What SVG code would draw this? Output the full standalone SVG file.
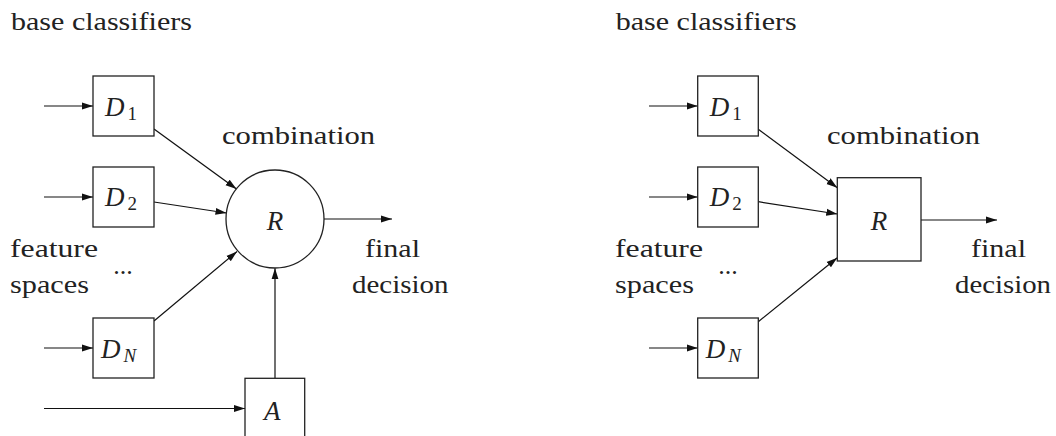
<svg xmlns="http://www.w3.org/2000/svg" width="1056" height="436" viewBox="0 0 1056 436">
<style>
text{font-family:'Liberation Serif','Times New Roman',Times,'DejaVu Serif',serif;fill:#222}
.txt{font-size:26px}
.math{font-style:italic;font-size:27px}
.sub{font-size:19px}
.subi{font-style:italic;font-size:19px}
.box{fill:#fff;stroke:#222;stroke-width:1.3}
.edge{fill:none;stroke:#111;stroke-width:1.2;marker-end:url(#arr)}
</style>
<defs>
<marker id="arr" markerUnits="userSpaceOnUse" markerWidth="11" markerHeight="8" refX="11" refY="4" orient="auto">
<path d="M0,0.5 L11,4 L0,7.5 z" fill="#111"/>
</marker>
</defs>
<rect width="1056" height="436" fill="#fff"/>

<g id="connectors">
<line class="edge" x1="44" y1="106" x2="93" y2="106"/>
<line class="edge" x1="44" y1="197" x2="93" y2="197"/>
<line class="edge" x1="44" y1="348" x2="93" y2="348"/>
<line class="edge" x1="44" y1="408.5" x2="245" y2="408.5"/>
<line class="edge" x1="154" y1="129" x2="236.5" y2="189"/>
<line class="edge" x1="154" y1="202" x2="226.5" y2="213"/>
<line class="edge" x1="154" y1="321" x2="237" y2="251.5"/>
<line class="edge" x1="275" y1="378.3" x2="275" y2="268.3"/>
<line class="edge" x1="324" y1="219" x2="392" y2="219"/>
<line class="edge" x1="649" y1="106" x2="697.7" y2="106"/>
<line class="edge" x1="649" y1="197" x2="697.7" y2="197"/>
<line class="edge" x1="649" y1="348" x2="697.7" y2="348"/>
<line class="edge" x1="758.3" y1="129.3" x2="837.3" y2="187.7"/>
<line class="edge" x1="758.3" y1="201.7" x2="837.3" y2="214"/>
<line class="edge" x1="758.3" y1="321.7" x2="837.3" y2="257.7"/>
<line class="edge" x1="921" y1="220" x2="997" y2="220"/>
</g>

<g id="L_D1"><rect class="box" x="93" y="76" width="61" height="60"/>
<text class="math" font-family="Liberation Serif, serif" x="105" y="115.5">D</text><text class="sub" font-family="Liberation Serif, serif" x="127.5" y="119.5">1</text></g>
<g id="L_D2"><rect class="box" x="93" y="167" width="61" height="60"/>
<text class="math" x="105" y="206">D</text><text class="sub" x="127.5" y="210">2</text></g>
<g id="L_DN"><rect class="box" x="93" y="318" width="61" height="60"/>
<text class="math" x="101" y="357.5">D</text><text class="subi" x="123.5" y="362">N</text></g>
<g id="L_A"><rect class="box" x="245" y="378.3" width="59.7" height="80"/>
<text class="math" x="264" y="419.5">A</text></g>
<g id="L_R"><circle class="box" cx="275" cy="219" r="49"/>
<text class="math" x="275" y="230" text-anchor="middle">R</text></g>

<g id="L_labels">
<text class="txt" x="11" y="30" textLength="181" lengthAdjust="spacingAndGlyphs">base classifiers</text>
<text class="txt" x="222" y="144" textLength="153" lengthAdjust="spacingAndGlyphs">combination</text>
<text class="txt" x="10" y="257" textLength="88" lengthAdjust="spacingAndGlyphs">feature</text>
<text class="txt" x="10" y="292.5" textLength="79" lengthAdjust="spacingAndGlyphs">spaces</text>
<text class="txt" x="123" y="274" text-anchor="middle">...</text>
<text class="txt" x="365" y="257" textLength="55" lengthAdjust="spacingAndGlyphs">final</text>
<text class="txt" x="352" y="293" textLength="96.5" lengthAdjust="spacingAndGlyphs">decision</text>
</g>

<g id="R_D1"><rect class="box" x="697.7" y="76" width="60.6" height="60"/>
<text class="math" x="709.7" y="115.5">D</text><text class="sub" x="732.2" y="119.5">1</text></g>
<g id="R_D2"><rect class="box" x="697.7" y="167" width="60.6" height="60"/>
<text class="math" x="709.7" y="206">D</text><text class="sub" x="732.2" y="210">2</text></g>
<g id="R_DN"><rect class="box" x="697.7" y="318" width="60.6" height="60"/>
<text class="math" x="705.7" y="357.5">D</text><text class="subi" x="728.2" y="362">N</text></g>
<g id="R_R"><rect class="box" x="837.3" y="177.7" width="83.7" height="83.3"/>
<text class="math" x="879" y="230" text-anchor="middle">R</text></g>

<g id="R_labels">
<text class="txt" x="615.7" y="30" textLength="181" lengthAdjust="spacingAndGlyphs">base classifiers</text>
<text class="txt" x="827" y="144" textLength="153" lengthAdjust="spacingAndGlyphs">combination</text>
<text class="txt" x="615" y="257" textLength="88" lengthAdjust="spacingAndGlyphs">feature</text>
<text class="txt" x="615" y="292.5" textLength="79" lengthAdjust="spacingAndGlyphs">spaces</text>
<text class="txt" x="728" y="274" text-anchor="middle">...</text>
<text class="txt" x="971" y="257" textLength="55" lengthAdjust="spacingAndGlyphs">final</text>
<text class="txt" x="955" y="293" textLength="96" lengthAdjust="spacingAndGlyphs">decision</text>
</g>
</svg>
